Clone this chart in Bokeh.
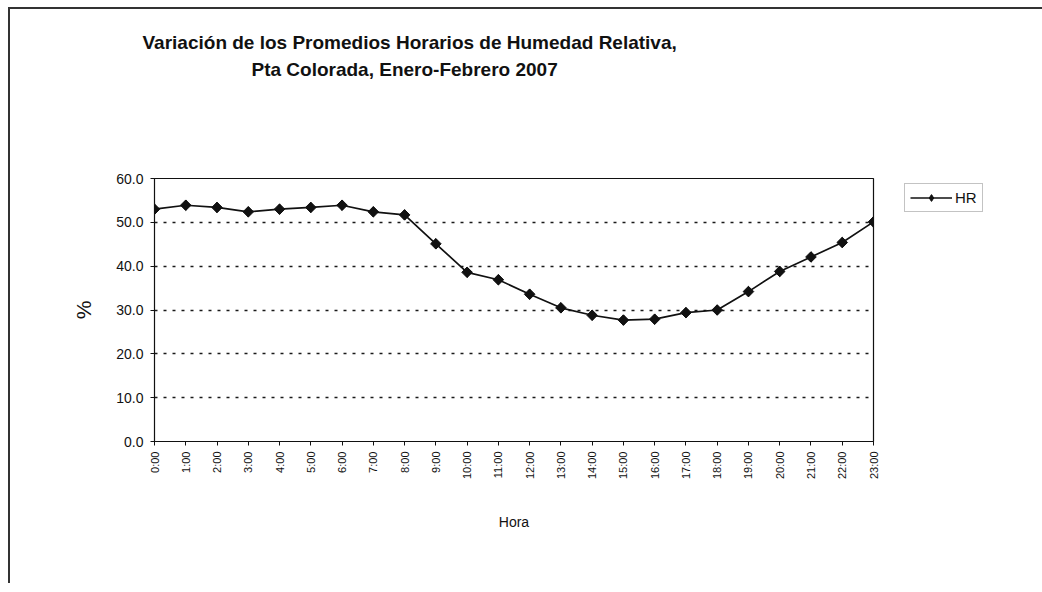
from bokeh.plotting import figure
from bokeh.models import (Range1d, FixedTicker, Legend, LegendItem, Title)
from bokeh.embed import file_html
from bokeh.resources import INLINE
import math

hours = ["0:00", "1:00", "2:00", "3:00", "4:00", "5:00", "6:00", "7:00", "8:00",
         "9:00", "10:00", "11:00", "12:00", "13:00", "14:00", "15:00", "16:00",
         "17:00", "18:00", "19:00", "20:00", "21:00", "22:00", "23:00"]
hr = [53.0, 53.9, 53.4, 52.4, 53.0, 53.4, 53.9, 52.4, 51.7, 45.1, 38.6, 36.9,
      33.6, 30.5, 28.8, 27.7, 27.9, 29.4, 30.0, 34.2, 38.8, 42.1, 45.4, 50.1]
y_ticks = [0, 10, 20, 30, 40, 50, 60]
title_lines = ["Variación de los Promedios Horarios de Humedad Relativa,",
               "Pta Colorada, Enero-Febrero 2007"]

FONT = "Liberation Sans"
xs = list(range(len(hours)))

p = figure(frame_width=719, frame_height=263, output_backend="svg",
           toolbar_location=None,
           x_range=Range1d(0, len(hours) - 1), y_range=Range1d(0, 60),
           min_border_left=144, min_border_right=161, min_border_top=169,
           min_border_bottom=142)
p.styles = {"border-top": "2px solid #333", "border-left": "2px solid #333",
            "margin-left": "8px", "margin-top": "7px"}
p.background_fill_color = "white"
p.border_fill_color = "white"
p.outline_line_color = "#111"
p.outline_line_width = 1.2

# grid
p.xgrid.grid_line_color = None
p.ygrid.ticker = FixedTicker(ticks=y_ticks[1:])
p.ygrid.grid_line_color = "#1a1a1a"
p.ygrid.grid_line_dash = "3 6"
p.ygrid.grid_line_width = 1.7

# x axis
p.xaxis.ticker = FixedTicker(ticks=xs)
p.xaxis.major_label_overrides = {i: h for i, h in enumerate(hours)}
p.xaxis.major_label_orientation = math.pi / 2
p.xaxis.major_label_text_font = FONT
p.xaxis.major_label_text_font_size = "11px"
p.xaxis.major_label_text_color = "#111"
p.xaxis.major_label_standoff = 6
p.xaxis.minor_tick_line_color = None
p.xaxis.major_tick_in = 0
p.xaxis.major_tick_out = 4
p.xaxis.axis_line_color = "#111"
p.xaxis.major_tick_line_color = "#111"
p.xaxis.axis_label = "Hora"
p.xaxis.axis_label_text_font = FONT
p.xaxis.axis_label_text_font_style = "normal"
p.xaxis.axis_label_text_font_size = "14px"
p.xaxis.axis_label_text_color = "#111"
p.xaxis.axis_label_standoff = 32

# y axis
p.yaxis.ticker = FixedTicker(ticks=y_ticks)
p.yaxis.major_label_overrides = {t: f"{t:.1f}" for t in y_ticks}
p.yaxis.major_label_text_font = FONT
p.yaxis.major_label_text_font_size = "14px"
p.yaxis.major_label_text_color = "#111"
p.yaxis.major_label_standoff = 7
p.yaxis.minor_tick_line_color = None
p.yaxis.major_tick_in = 0
p.yaxis.major_tick_out = 4
p.yaxis.axis_line_color = "#111"
p.yaxis.major_tick_line_color = "#111"
p.yaxis.axis_label = "%"
p.yaxis.axis_label_text_font = FONT
p.yaxis.axis_label_text_font_style = "normal"
p.yaxis.axis_label_text_font_size = "21px"
p.yaxis.axis_label_text_color = "#111"
p.yaxis.axis_label_standoff = 18

# data
ln = p.line(xs, hr, line_color="#111", line_width=1.7)
dm = p.scatter(xs, hr, marker="diamond", size=10, fill_color="#111",
               line_color="#111")
sc = p.scatter(xs, hr, marker="square", angle=math.pi / 4, size=7.5,
               fill_color="#111", line_color="#111")

# legend
legend = Legend(items=[LegendItem(label="HR", renderers=[ln, dm])],
                location=(31, 229), orientation="vertical",
                border_line_color="#888", border_line_width=1,
                background_fill_alpha=1, label_text_font=FONT,
                label_text_font_size="15px", label_text_color="#111",
                glyph_width=42, glyph_height=17, label_standoff=3,
                padding=5, spacing=0, margin=0)
p.add_layout(legend, "right")

# title lines (inner first, outer last); a blank spacer keeps them up
p.add_layout(Title(text=" ", text_font_size="10px", standoff=84), "above")
p.add_layout(Title(text=title_lines[1], align="left", offset=97,
                   text_font=FONT, text_font_style="bold",
                   text_font_size="19px", text_color="#111",
                   standoff=4), "above")
p.add_layout(Title(text=title_lines[0], align="left", offset=-12,
                   text_font=FONT, text_font_style="bold",
                   text_font_size="19px", text_color="#111",
                   standoff=4), "above")

open("out.html", "w").write(file_html(p, INLINE))
